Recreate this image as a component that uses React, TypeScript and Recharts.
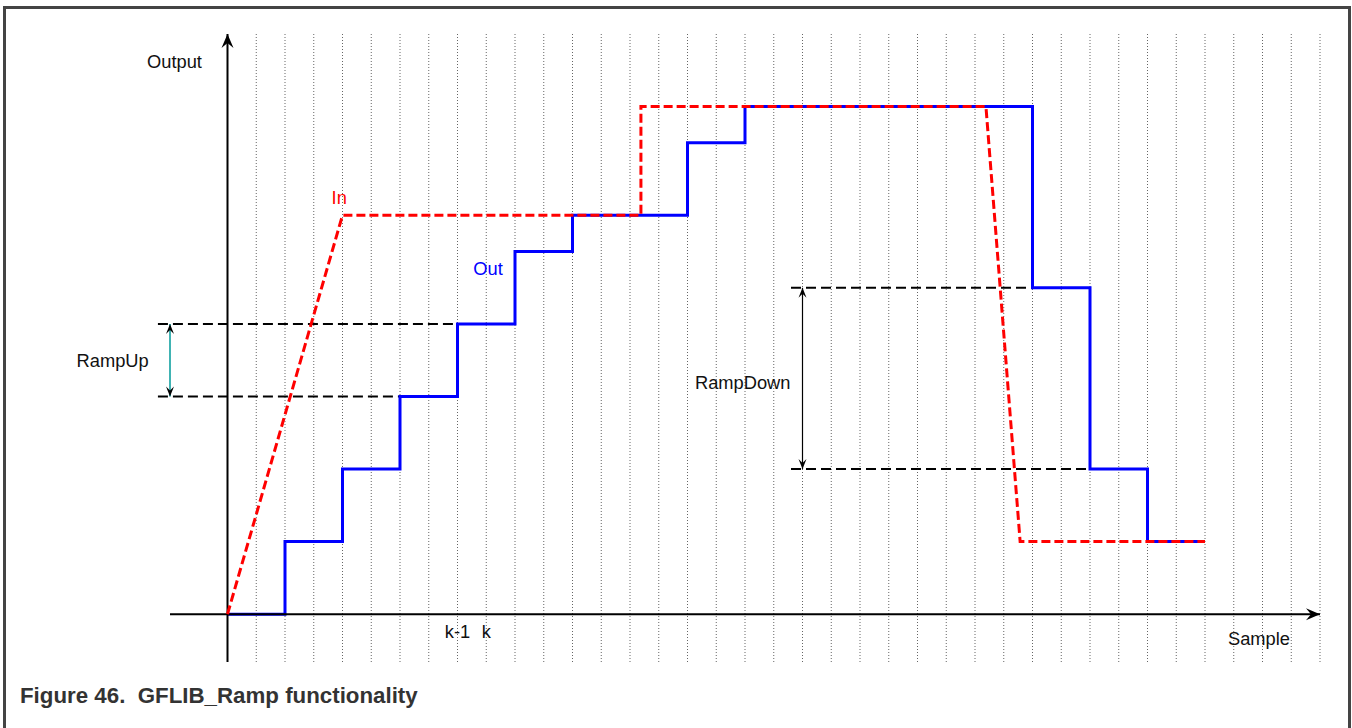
import React from "react";
import {
  ComposedChart,
  Line,
  XAxis,
  YAxis,
  CartesianGrid,
  ReferenceLine,
  ReferenceDot,
} from "recharts";

// Out: ramped output, one value per sample pair (step after)
const outSamples = [0, 2, 4, 6, 8, 10, 12, 14, 16, 18, 20, 22, 24, 26, 28, 30, 32, 34];
const outValues = [0, 1, 2, 3, 4, 5, 5.5, 5.5, 6.5, 7, 7, 7, 7, 7, 4.5, 2, 1, 1];

// In: requested input (red dashed)
const inSamples = [0, 4, 14.38, 14.38, 26.38, 27.57, 34];
const inValues = [0, 5.5, 5.5, 7, 7, 1, 1];

// sample grid
const gridTicks = Array.from({ length: 39 }, (_, i) => i);
const xDomain: [number, number] = [-2, 38];

const outData = outSamples.map((k, i) => ({ k, v: outValues[i] }));
const inData = inSamples.map((k, i) => ({ k, v: inValues[i] }));

const FONT = '"Liberation Sans", Arial, sans-serif';

function head(tx: number, ty: number, dx: number, dy: number, len: number, half: number, notch: number) {
  const l = Math.hypot(dx, dy) || 1;
  const ux = dx / l;
  const uy = dy / l;
  const px = -uy;
  const py = ux;
  const bx = tx - ux * len;
  const by = ty - uy * len;
  const nx = tx - ux * notch;
  const ny = ty - uy * notch;
  return `M${tx},${ty} L${bx + px * half},${by + py * half} L${nx},${ny} L${bx - px * half},${by - py * half} Z`;
}

function arrowShape(opts: {
  stroke: string;
  width: number;
  headColor: string;
  start?: boolean;
  end?: boolean;
  len?: number;
  half?: number;
  notch?: number;
}) {
  const len = opts.len ?? 12;
  const half = opts.half ?? 5;
  const notch = opts.notch ?? 8;
  return (p: any) => {
    const { x1, y1, x2, y2 } = p;
    return (
      <g>
        <line x1={x1} y1={y1} x2={x2} y2={y2} stroke={opts.stroke} strokeWidth={opts.width} />
        {opts.end && <path d={head(x2, y2, x2 - x1, y2 - y1, len, half, notch)} fill={opts.headColor} />}
        {opts.start && <path d={head(x1, y1, x1 - x2, y1 - y2, len, half, notch)} fill={opts.headColor} />}
      </g>
    );
  };
}

function textShape(text: string, color: string, anchor: "start" | "middle" | "end" = "start") {
  return (p: any) => (
    <text x={p.cx} y={p.cy} fill={color} fontSize={18.3} fontFamily={FONT} textAnchor={anchor}>
      {text}
    </text>
  );
}

// grid x positions from the plot offset and the x domain
const gridX = (props: any) => {
  const s = props?.xAxis?.scale;
  if (typeof s === "function") return gridTicks.map((k) => s(k));
  const o = props.offset;
  return gridTicks.map((k) => o.left + ((k - xDomain[0]) / (xDomain[1] - xDomain[0])) * o.width);
};

const dashLine = { stroke: "#000", strokeWidth: 2, strokeDasharray: "10 5" };

export default function App() {
  return (
    <div style={{ position: "absolute", left: 0, top: 0, width: 1352, height: 728, background: "#fff" }}>
      <div
        style={{
          position: "absolute",
          left: 3,
          top: 6,
          width: 1342,
          height: 740,
          border: "3px solid #444",
          borderBottom: "none",
        }}
      />
      <div style={{ position: "absolute", left: 0, top: 0 }}>
        <ComposedChart width={1352} height={728} margin={{ top: 34, right: 32, bottom: 66, left: 170 }}>
          <XAxis
            type="number"
            dataKey="k"
            domain={xDomain}
            ticks={gridTicks}
            allowDataOverflow
            hide
          />
          <YAxis type="number" dataKey="v" domain={[-0.66, 8]} allowDataOverflow hide />
          <CartesianGrid
            horizontal={false}
            stroke="#666"
            strokeDasharray="1 2"
            verticalCoordinatesGenerator={gridX}
          />

          <ReferenceLine
            segment={[{ x: -2.42, y: 4 }, { x: 10, y: 4 }]}
            {...dashLine}
            ifOverflow="visible"
          />
          <ReferenceLine
            segment={[{ x: -2.42, y: 3 }, { x: 8, y: 3 }]}
            {...dashLine}
            ifOverflow="visible"
          />
          <ReferenceLine
            segment={[{ x: 19.6, y: 4.5 }, { x: 28, y: 4.5 }]}
            {...dashLine}
            ifOverflow="visible"
          />
          <ReferenceLine
            segment={[{ x: 19.6, y: 2 }, { x: 30, y: 2 }]}
            {...dashLine}
            ifOverflow="visible"
          />

          <Line
            data={outData}
            dataKey="v"
            type="stepAfter"
            stroke="#0000ff"
            strokeWidth={3}
            dot={false}
            isAnimationActive={false}
          />

          <ReferenceLine
            segment={[{ x: -2, y: 0 }, { x: 38, y: 0 }]}
            ifOverflow="visible"
            shape={arrowShape({ stroke: "#000", width: 2, headColor: "#000", end: true, len: 14, half: 6, notch: 9 })}
          />
          <ReferenceLine
            segment={[{ x: 0, y: -0.66 }, { x: 0, y: 8 }]}
            ifOverflow="visible"
            shape={arrowShape({ stroke: "#000", width: 2, headColor: "#000", end: true, len: 14, half: 6, notch: 9 })}
          />

          <Line
            data={inData}
            dataKey="v"
            type="linear"
            stroke="#ff0000"
            strokeWidth={3}
            strokeDasharray="9 4"
            dot={false}
            isAnimationActive={false}
          />

          <ReferenceLine
            segment={[{ x: -2, y: 4 }, { x: -2, y: 3 }]}
            ifOverflow="visible"
            shape={arrowShape({ stroke: "#009a9a", width: 1.5, headColor: "#000", start: true, end: true, len: 10, half: 4, notch: 6 })}
          />
          <ReferenceLine
            segment={[{ x: 20, y: 4.5 }, { x: 20, y: 2 }]}
            ifOverflow="visible"
            shape={arrowShape({ stroke: "#000", width: 1.2, headColor: "#000", start: true, end: true, len: 10, half: 4, notch: 6 })}
          />

          <ReferenceDot x={-2.8} y={7.53} r={0} ifOverflow="visible" shape={textShape("Output", "#111")} />
          <ReferenceDot x={3.62} y={5.65} r={0} ifOverflow="visible" shape={textShape("In", "#ff0000")} />
          <ReferenceDot x={8.55} y={4.68} r={0} ifOverflow="visible" shape={textShape("Out", "#0000ff")} />
          <ReferenceDot x={-5.25} y={3.41} r={0} ifOverflow="visible" shape={textShape("RampUp", "#111")} />
          <ReferenceDot x={16.26} y={3.1} r={0} ifOverflow="visible" shape={textShape("RampDown", "#111")} />
          <ReferenceDot x={8} y={-0.33} r={0} ifOverflow="visible" shape={textShape("k-1", "#111", "middle")} />
          <ReferenceDot x={9} y={-0.33} r={0} ifOverflow="visible" shape={textShape("k", "#111", "middle")} />
          <ReferenceDot x={34.8} y={-0.43} r={0} ifOverflow="visible" shape={textShape("Sample", "#111")} />
        </ComposedChart>
      </div>
      <div
        style={{
          position: "absolute",
          left: 20,
          top: 685,
          fontFamily: FONT,
          fontSize: 22.3,
          lineHeight: "22px",
          fontWeight: "bold",
          color: "#333",
          whiteSpace: "pre",
        }}
      >
        {"Figure 46.  GFLIB_Ramp functionality"}
      </div>
    </div>
  );
}
